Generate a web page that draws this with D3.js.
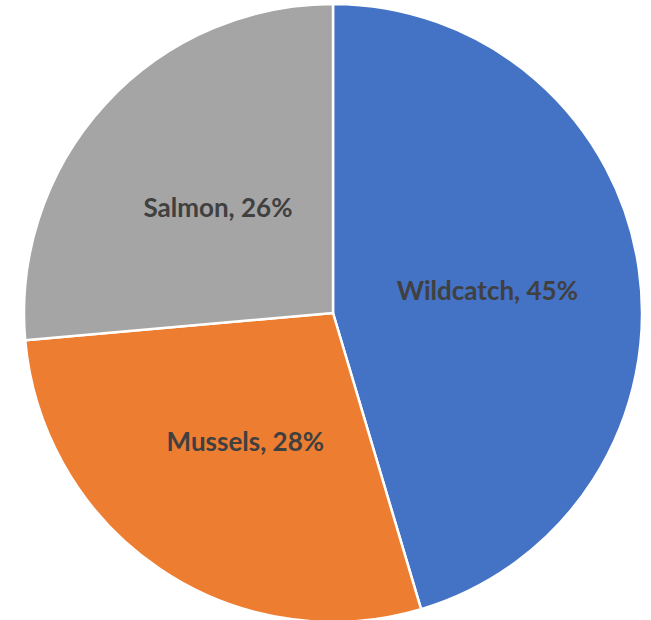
<!DOCTYPE html>
<html>
<head>
<meta charset="utf-8">
<script src="https://cdn.jsdelivr.net/npm/d3@7"></script>
<style>
  html, body { margin: 0; padding: 0; background: #fff; }
  svg { display: block; }
</style>
</head>
<body>
<svg id="chart" width="651" height="620"></svg>
<script>
const categories = ["Wildcatch", "Mussels", "Salmon"];
const values = [45.4, 28.2, 26.4];
const colors = ["#4472C4", "#ED7D31", "#A5A5A5"];
const labelTexts = ["Wildcatch, 45%", "Mussels, 28%", "Salmon, 26%"];

const width = 651, height = 620;
const cx = 333, cy = 313, R = 309;

const svg = d3.select("#chart");
const g = svg.append("g").attr("transform", `translate(${cx},${cy})`);

const data = categories.map((c, i) => ({ name: c, value: values[i], color: colors[i], label: labelTexts[i] }));

const pie = d3.pie().sort(null).value(d => d.value);
const arcs = pie(data);
const arc = d3.arc().innerRadius(0).outerRadius(R);
const labelArc = d3.arc().innerRadius(156).outerRadius(156);

g.selectAll("path.slice")
  .data(arcs)
  .enter().append("path")
  .attr("class", "slice")
  .attr("d", arc)
  .attr("fill", d => d.data.color)
  .attr("stroke", "#ffffff")
  .attr("stroke-width", 2.5)
  .attr("stroke-linejoin", "round");

g.selectAll("text.lbl")
  .data(arcs)
  .enter().append("text")
  .attr("class", "lbl")
  .attr("transform", d => `translate(${labelArc.centroid(d)})`)
  .attr("text-anchor", "middle")
  .attr("dy", "0.36em")
  .attr("font-family", "Lato, 'Open Sans', sans-serif")
  .attr("font-weight", 700)
  .attr("font-size", 26)
  .attr("fill", "#404040")
  .text(d => d.data.label);
</script>
</body>
</html>
